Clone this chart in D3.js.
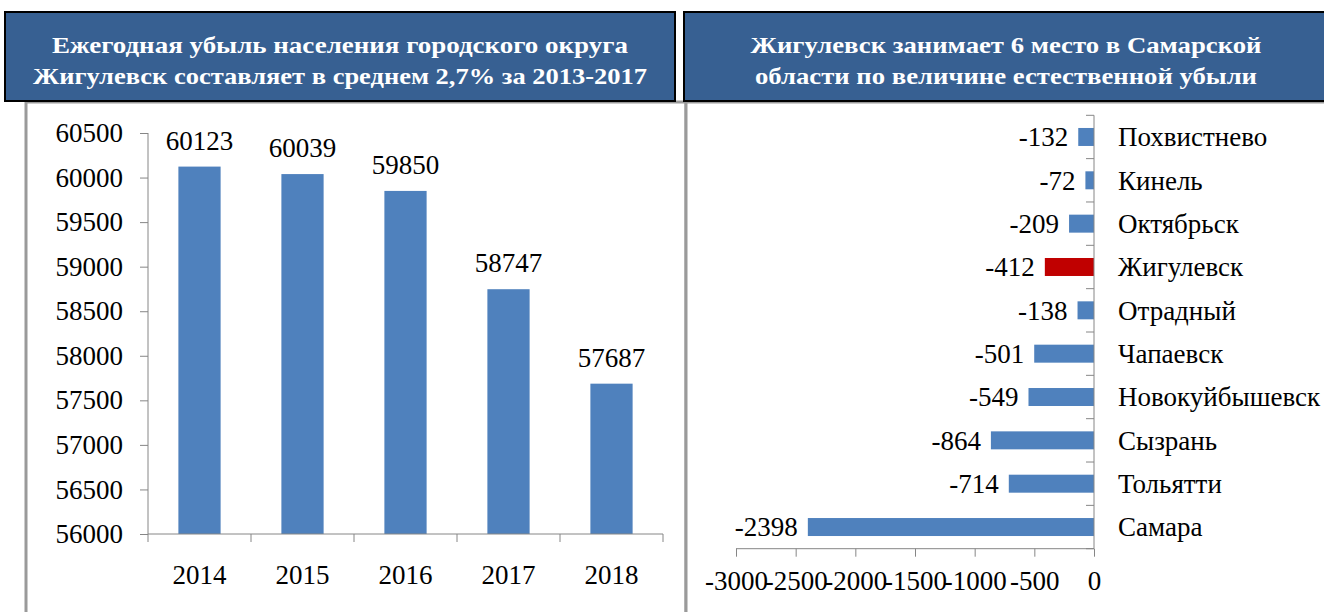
<!DOCTYPE html>
<html>
<head>
<meta charset="utf-8">
<script src="https://cdn.jsdelivr.net/npm/d3@7"></script>
<style>
  html, body { margin: 0; padding: 0; background: #fff; }
  svg { display: block; }
  text { font-family: "Liberation Serif", "Times New Roman", serif; }
</style>
</head>
<body>
<svg id="chart" width="1324" height="612"></svg>
<script>
// ---- Data ----
const leftTitle = ["Ежегодная убыль населения городского округа", "Жигулевск составляет в среднем 2,7% за 2013-2017"];
const rightTitle = ["Жигулевск занимает 6 место в Самарской", "области по величине естественной убыли"];

const years = ["2014", "2015", "2016", "2017", "2018"];
const population = [60123, 60039, 59850, 58747, 57687];
const popTicks = [56000, 56500, 57000, 57500, 58000, 58500, 59000, 59500, 60000, 60500];

const cities = ["Похвистнево", "Кинель", "Октябрьск", "Жигулевск", "Отрадный", "Чапаевск", "Новокуйбышевск", "Сызрань", "Тольятти", "Самара"];
const naturalLoss = [-132, -72, -209, -412, -138, -501, -549, -864, -714, -2398];
const highlightCity = "Жигулевск";
const lossTicks = [-3000, -2500, -2000, -1500, -1000, -500, 0];

// ---- Styles ----
const barColor = "#4f81bd";
const highlightColor = "#c00000";
const axisColor = "#868686";
const headerFill = "#376092";
const fontSize = 27;
const fmt = d => String(d);

const svg = d3.select("#chart");

// ---- Chart area frames ----
const frames = [
  {x: 26, y: 102, w: 660, h: 520},
  {x: 686, y: 102, w: 660, h: 520}
];
svg.selectAll("rect.frame").data(frames).join("rect")
  .attr("class", "frame")
  .attr("x", d => d.x).attr("y", d => d.y)
  .attr("width", d => d.w).attr("height", d => d.h)
  .attr("fill", "#fff").attr("stroke", "#9a9a9a").attr("stroke-width", 3);

// ---- Header boxes ----
const headers = [
  {x: 5, y: 12, w: 670, h: 89, cx: 340, lines: leftTitle, widths: [576, 614]},
  {x: 684, y: 12, w: 650, h: 89, cx: 1006, lines: rightTitle, widths: [511, 502]}
];
const hg = svg.selectAll("g.header").data(headers).join("g").attr("class", "header");
hg.append("rect")
  .attr("x", d => d.x).attr("y", d => d.y)
  .attr("width", d => d.w).attr("height", d => d.h)
  .attr("fill", headerFill).attr("stroke", "#000").attr("stroke-width", 2);
hg.each(function(d) {
  const g = d3.select(this);
  d.lines.forEach((line, i) => {
    g.append("text")
      .attr("x", d.cx).attr("y", 53 + i * 31)
      .attr("text-anchor", "middle")
      .attr("fill", "#fff").attr("font-weight", "bold").attr("font-size", 24)
      .attr("textLength", d.widths[i]).attr("lengthAdjust", "spacingAndGlyphs")
      .text(line);
  });
});

// ---- Left chart: population ----
const y1 = d3.scaleLinear().domain([56000, 60500]).range([534, 133]);
const x1 = d3.scaleBand().domain(years).range([148, 663]).paddingInner(0.59).paddingOuter(0.295);

const left = svg.append("g");
left.selectAll("rect.bar").data(years).join("rect")
  .attr("class", "bar")
  .attr("x", (d) => x1(d))
  .attr("y", (d, i) => y1(population[i]))
  .attr("width", x1.bandwidth())
  .attr("height", (d, i) => y1(56000) - y1(population[i]))
  .attr("fill", barColor);

left.selectAll("text.val").data(years).join("text")
  .attr("class", "val")
  .attr("x", d => x1(d) + x1.bandwidth() / 2)
  .attr("y", (d, i) => y1(population[i]) - 17)
  .attr("text-anchor", "middle")
  .attr("font-size", fontSize)
  .text((d, i) => population[i]);

// y axis
const yAxis1 = d3.axisLeft(y1).tickValues(popTicks).tickSize(8).tickPadding(17).tickFormat(fmt);
const ya = left.append("g").attr("transform", "translate(148,0)").call(yAxis1);
ya.attr("font-family", null).attr("font-size", null);
ya.select(".domain").attr("stroke", axisColor).attr("d", "M0,133V534");
ya.selectAll(".tick line").attr("stroke", axisColor);
ya.selectAll(".tick text").attr("font-size", fontSize).attr("fill", "#000");

// x axis
const xa = left.append("g").attr("transform", "translate(0,534)");
xa.append("line").attr("x1", 148).attr("x2", 663).attr("stroke", axisColor);
const bounds1 = years.map(d => x1(d) - x1.step() * x1.paddingInner() / 2).concat([663]);
xa.selectAll("line.tk").data(bounds1).join("line").attr("class", "tk")
  .attr("x1", d => d).attr("x2", d => d).attr("y1", 0).attr("y2", 8).attr("stroke", axisColor);
xa.selectAll("text").data(years).join("text")
  .attr("x", d => x1(d) + x1.bandwidth() / 2)
  .attr("y", 50)
  .attr("text-anchor", "middle")
  .attr("font-size", fontSize)
  .text(d => d);

// ---- Right chart: natural loss ----
const x2 = d3.scaleLinear().domain([-3000, 0]).range([736, 1094]);
const y2 = d3.scaleBand().domain(cities).range([115.3, 548.7]).paddingInner(0.585).paddingOuter(0.2925);

const right = svg.append("g");
right.selectAll("rect.bar").data(cities).join("rect")
  .attr("class", "bar")
  .attr("x", (d, i) => x2(naturalLoss[i]))
  .attr("y", d => y2(d))
  .attr("width", (d, i) => x2(0) - x2(naturalLoss[i]))
  .attr("height", y2.bandwidth())
  .attr("fill", d => d === highlightCity ? highlightColor : barColor);

right.selectAll("text.val").data(cities).join("text")
  .attr("class", "val")
  .attr("x", (d, i) => x2(naturalLoss[i]) - 10)
  .attr("y", d => y2(d) + y2.bandwidth() / 2)
  .attr("dy", "0.35em")
  .attr("text-anchor", "end")
  .attr("font-size", fontSize)
  .text((d, i) => naturalLoss[i]);

right.selectAll("text.cat").data(cities).join("text")
  .attr("class", "cat")
  .attr("x", 1118)
  .attr("y", d => y2(d) + y2.bandwidth() / 2)
  .attr("dy", "0.35em")
  .attr("font-size", fontSize)
  .text(d => d);

// vertical category axis at zero
const va = right.append("g");
va.append("line").attr("x1", x2(0)).attr("x2", x2(0)).attr("y1", 115.3).attr("y2", 548.7).attr("stroke", axisColor);
const bounds2 = cities.map(d => y2(d) - y2.step() * y2.paddingInner() / 2).concat([548.7]);
va.selectAll("line.tk").data(bounds2).join("line").attr("class", "tk")
  .attr("x1", x2(0) - 8).attr("x2", x2(0)).attr("y1", d => d).attr("y2", d => d).attr("stroke", axisColor);

// horizontal value axis
const xAxis2 = d3.axisBottom(x2).tickValues(lossTicks).tickSize(8).tickPadding(14).tickFormat(fmt);
const xb = right.append("g").attr("transform", "translate(0,548.7)").call(xAxis2);
xb.attr("font-family", null).attr("font-size", null);
xb.select(".domain").attr("stroke", axisColor).attr("d", "M736,0H1094");
xb.selectAll(".tick line").attr("stroke", axisColor);
xb.selectAll(".tick text").attr("font-size", fontSize).attr("fill", "#000");
</script>
</body>
</html>
